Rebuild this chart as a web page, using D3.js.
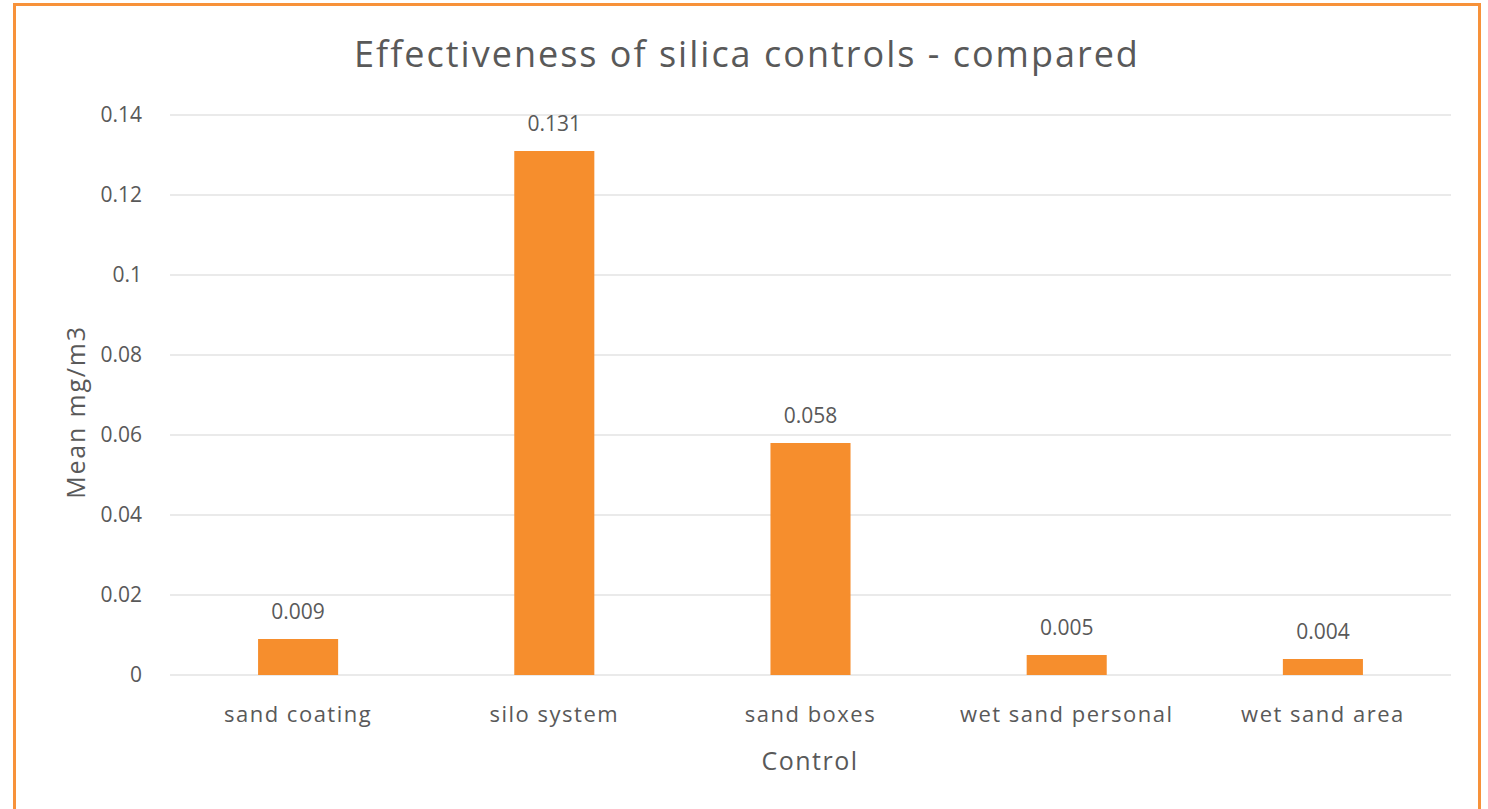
<!DOCTYPE html>
<html><head><meta charset="utf-8">
<script src="https://cdn.jsdelivr.net/npm/d3@7"></script>
<style>
html,body{margin:0;padding:0;background:#fff;}
svg{display:block;}
text{font-family:"Open Sans",sans-serif;fill:#595959;}
</style></head>
<body>
<script>
const categories = ["sand coating","silo system","sand boxes","wet sand personal","wet sand area"];
const values = [0.009,0.131,0.058,0.005,0.004];
const valueLabels = ["0.009","0.131","0.058","0.005","0.004"];
const yTicks = [0,0.02,0.04,0.06,0.08,0.1,0.12,0.14];
const yTickLabels = ["0","0.02","0.04","0.06","0.08","0.1","0.12","0.14"];
const title = "Effectiveness of silica controls - compared";
const xTitle = "Control";
const yTitle = "Mean mg/m3";

const W=1488,H=809;
const svg=d3.select("body").append("svg").attr("width",W).attr("height",H);
svg.append("rect").attr("x",14.5).attr("y",4.5).attr("width",1465).attr("height",830)
  .attr("fill","#fff").attr("stroke","#F7923A").attr("stroke-width",3);

const x=d3.scaleBand().domain(categories).range([170,1451]).paddingInner(0.6875).paddingOuter(0.34375);
const y=d3.scaleLinear().domain([0,0.14]).range([675,115]);

const grid=svg.append("g");
grid.selectAll("line").data(yTicks).join("line")
  .attr("x1",170).attr("x2",1451).attr("y1",d=>y(d)).attr("y2",d=>y(d))
  .attr("stroke","#e3e3e3").attr("stroke-width",1.5);

const yAxis=svg.append("g").attr("transform","translate(170,0)")
  .call(d3.axisLeft(y).tickValues(yTicks).tickFormat((d,i)=>yTickLabels[i]).tickSize(0).tickPadding(28));
yAxis.select(".domain").remove();
yAxis.selectAll("text").attr("font-size",21).style("font-family","'Open Sans',sans-serif").attr("fill","#595959");

svg.append("g").selectAll("rect").data(values).join("rect")
  .attr("x",(d,i)=>x(categories[i])).attr("width",x.bandwidth())
  .attr("y",d=>y(d)).attr("height",d=>y(0)-y(d)).attr("fill","#F68E2D");

svg.append("g").selectAll("text").data(values).join("text")
  .attr("x",(d,i)=>x(categories[i])+x.bandwidth()/2).attr("y",d=>y(d)-20)
  .attr("text-anchor","middle").attr("font-size",21).text((d,i)=>valueLabels[i]);

const xAxis=svg.append("g").attr("transform","translate(0,675)")
  .call(d3.axisBottom(x).tickSize(0).tickPadding(31));
xAxis.select(".domain").remove();
xAxis.selectAll("text").attr("font-size",22).attr("letter-spacing",1.5).style("font-family","'Open Sans',sans-serif").attr("fill","#595959");

svg.append("text").attr("x",747).attr("y",67).attr("text-anchor","middle").attr("font-size",36).attr("letter-spacing",2).text(title);
svg.append("text").attr("x",810).attr("y",770).attr("text-anchor","middle").attr("font-size",25).attr("letter-spacing",1.5).text(xTitle);
svg.append("text").attr("transform","translate(85,412) rotate(-90)").attr("text-anchor","middle").attr("font-size",25).attr("letter-spacing",1.8).text(yTitle);
</script>
</body></html>
